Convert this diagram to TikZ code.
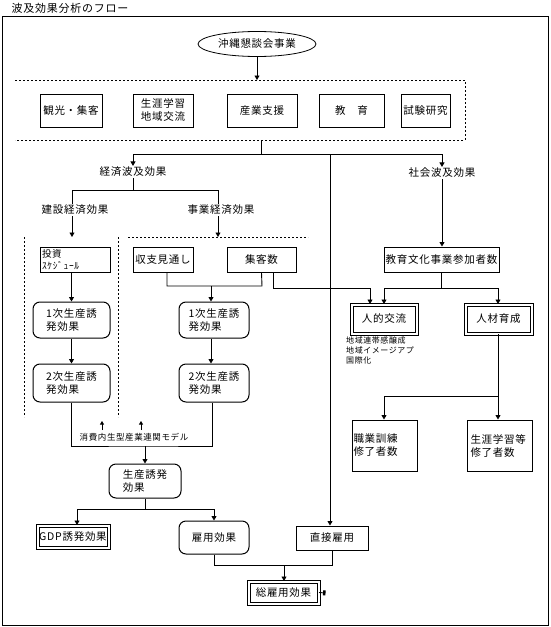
\documentclass[tikz,border=0pt]{standalone}
\usepackage{fontspec}
\setmainfont{Noto Sans CJK JP}[LetterSpace=7]
\usetikzlibrary{arrows.meta,shapes.geometric}
\begin{document}
\begin{tikzpicture}[x=1pt,y=-1pt,
  every node/.style={font=\fontsize{10.5}{13}\selectfont,inner sep=1pt},
  box/.style={draw,line width=1pt,align=center},
  rbox/.style={box,rounded corners=7pt},
  dbox/.style={draw,line width=1pt,double,double distance=2pt,align=center},
  arr/.style={-{Triangle[length=4.5pt,width=5pt]}},
  sarr/.style={-{Triangle[length=3.5pt,width=4pt]}},
  ln/.style={line width=0.9pt},
  dsh/.style={line width=0.8pt,dash pattern=on 2pt off 2pt}]
\path[use as bounding box] (0,0) rectangle (551,627);
\node[font=\fontsize{11}{13}\selectfont] (title) at (70,8) {波及効果分析のフロー};
\draw[line width=1pt] (2,16) rectangle (548,625);

\node[draw,ellipse,line width=0.8pt,minimum width=118pt,minimum height=25pt] (ell) at (257,44) {沖縄懇談会事業};
\coordinate (dtop) at (257,80);
\draw[dsh] (15,80) -- (465,80) -- (465,140) -- (15,140);
\draw[ln,arr] (ell.south) -- (dtop);

\node[box,minimum width=62pt,minimum height=33pt] (kanko) at (71,110.5) {観光・集客};
\node[box,minimum width=60pt,minimum height=33pt] (shogai) at (163,110.5) {生涯学習\\地域交流};
\node[box,minimum width=70pt,minimum height=33pt] (sangyo) at (262,110.5) {産業支援};
\node[box,minimum width=65pt,minimum height=33pt] (kyoiku) at (351.5,110.5) {教　育};
\node[box,minimum width=49pt,minimum height=33pt,inner sep=0pt] (shiken) at (425.5,110.5) {試験研究};

\coordinate (dbot) at (261,140);
\coordinate (br) at (261,154);
\coordinate (bL) at (133,154);
\coordinate (bM) at (330,154);
\coordinate (bR) at (442,154);
\draw[ln] (dbot) -- (br);
\draw[ln] (bL) -- (bR);
\node (keizai) at (133,172) {経済波及効果};
\node (shakai) at (442,173) {社会波及効果};
\draw[ln,arr] (bL) -- (keizai.north);
\draw[ln,arr] (bR) -- (shakai.north);

\coordinate (kz) at (133,190);
\coordinate (kzL) at (72,190);
\coordinate (kzR) at (218,190);
\draw[ln] (keizai.south) -- (kz);
\draw[ln] (kzL) -- (kzR);
\node (kensetsu) at (75,210) {建設経済効果};
\node (jigyo) at (221,210) {事業経済効果};
\draw[ln] (kzL) -- (kzL |- kensetsu.north);
\draw[ln] (kzR) -- (kzR |- jigyo.north);
\coordinate (aL) at (72,237);
\coordinate (aR) at (218,237);
\draw[ln,arr] (kzL |- kensetsu.south) -- (aL);
\draw[ln,arr] (kzR |- jigyo.south) -- (aR);

\draw[dsh] (24,237) -- (24,417);
\draw[dsh] (118,237) -- (118,417);
\draw[dsh] (128,237) -- (308,237);

\node[box,minimum width=70pt,minimum height=25pt,align=left,text width=66pt,inner xsep=2pt,inner ysep=0pt,font=\fontsize{9.5}{12}\selectfont] (toshi) at (75,259.5) {投資\\ｽｹｼﾞｭｰﾙ};
\node[box,minimum width=60pt,minimum height=25pt] (shushi) at (163,259.5) {収支見通し};
\node[box,minimum width=69pt,minimum height=25pt] (shukyaku) at (261.5,259.5) {集客数};
\node[box,minimum width=115pt,minimum height=25pt,inner sep=0pt] (kbunka) at (441.5,259.5) {教育文化事業参加者数};

\node[rbox,minimum width=77pt,minimum height=36pt,align=left] (ichiL) at (71.5,320) {1次生産誘\\発効果};
\node[rbox,minimum width=77pt,minimum height=38pt,align=left] (niL) at (71.5,383) {2次生産誘\\発効果};
\node[rbox,minimum width=70pt,minimum height=36pt,align=left] (ichiR) at (214,320) {1次生産誘\\発効果};
\node[rbox,minimum width=70pt,minimum height=38pt,align=left] (niR) at (214,383) {2次生産誘\\発効果};

\coordinate (s1) at (167,286);
\coordinate (s2) at (262,286);
\coordinate (s3) at (211,286);
\draw[ln] ([xshift=4pt]shushi.south) -- (s1) -- (s2) -- (shukyaku.south);
\draw[ln,arr] (s3) -- (s3 |- ichiR.north);
\draw[ln,arr] (ichiL.north |- toshi.south) -- (ichiL.north);
\draw[ln,arr] (ichiL.south) -- (niL.north);
\draw[ln,arr] ([xshift=-3pt]ichiR.south) -- ([xshift=-3pt]niR.north);

\coordinate (m1) at (145,446);
\draw[ln] (niL.south) |- (m1) -| ([xshift=-2pt]niR.south);
\node[font=\fontsize{8.5}{10}\selectfont] (model) at (134,437) {消費内生型産業連関モデル};
\coordinate (u1a) at (102,430);
\coordinate (u1b) at (102,421);
\coordinate (u2a) at (141,430);
\coordinate (u2b) at (141,421);
\draw[line width=0.7pt,sarr] (u1a) -- (u1b);
\draw[line width=0.7pt,sarr] (u2a) -- (u2b);

\node[rbox,minimum width=72pt,minimum height=34pt,align=left] (seisan) at (145,481) {生産誘発\\効果};
\draw[ln,arr] (m1) -- (seisan.north);
\coordinate (m2) at (145,509);
\coordinate (g1) at (77,509);
\coordinate (g2) at (214,509);
\draw[ln] (seisan.south) -- (m2);
\draw[ln] (g1) -- (g2);

\node[dbox,minimum width=71pt,minimum height=22pt] (gdp) at (73,536.5) {GDP誘発効果};
\node[rbox,minimum width=70pt,minimum height=33pt] (koyo) at (214,537.5) {雇用効果};
\node[box,minimum width=72pt,minimum height=24pt] (choku) at (332,538) {直接雇用};
\node[dbox,minimum width=70pt,minimum height=22pt] (sou) at (283.5,592.5) {総雇用効果};
\draw[ln,arr] (g1) -- (g1 |- gdp.north);
\draw[ln,arr] (g2) -- (koyo.north);
\draw[ln,arr] (bM) -- (bM |- choku.north);

\coordinate (k1) at (214,565);
\coordinate (k2) at (332,565);
\coordinate (k3) at (284,565);
\draw[ln] (koyo.south) -- (k1) -- (k2) -- (choku.south);
\draw[ln,arr] (k3) -- (k3 |- sou.north);
\coordinate (mk) at (325.5,593);
\draw[ln,-{Rectangle[length=2.5pt,width=5pt]}] (sou.east) -- (mk);

\node[dbox,minimum width=65pt,minimum height=29pt] (jinteki) at (384,319) {人的交流};
\node[dbox,minimum width=66pt,minimum height=29pt] (jinzai) at (498.5,319) {人材育成};
\node[anchor=north west,align=left,font=\fontsize{8}{10}\selectfont,inner sep=0pt] (notes) at (346,337) {地域連帯感醸成\\地域イメージアプ\\国際化};

\draw[ln,arr] (shakai.south) -- (shakai.south |- kbunka.north);
\coordinate (e1) at (441.5,288);
\coordinate (e2) at (384,288);
\coordinate (e3) at (498,288);
\draw[ln] (kbunka.south) -- (e1);
\draw[ln] (e2) -- (e3);
\draw[ln,arr] (e2) -- (e2 |- jinteki.north);
\draw[ln,arr] (e3) -- (e3 |- jinzai.north);
\coordinate (f1) at (273,288);
\coordinate (f2) at (370,288);
\draw[ln] (f1 |- shukyaku.south) -- (f1) -- (f2);
\draw[ln,arr] (f2) -- (f2 |- jinteki.north);

\node[box,minimum width=65pt,minimum height=51pt,align=left,text width=62pt,inner xsep=1.5pt] (shokugyo) at (384.5,445.5) {職業訓練\\修了者数};
\node[box,minimum width=65pt,minimum height=51pt,align=left,text width=58pt,inner xsep=3.5pt] (shogai2) at (499.5,445.5) {生涯学習等\\修了者数};
\coordinate (h1) at (498,396);
\coordinate (h2) at (384,396);
\draw[ln] (h1 |- jinzai.south) -- (h1) -- (h2);
\draw[ln,arr] (h2) -- (h2 |- shokugyo.north);
\draw[ln,arr] (h1) -- (h1 |- shogai2.north);
\end{tikzpicture}
\end{document}
